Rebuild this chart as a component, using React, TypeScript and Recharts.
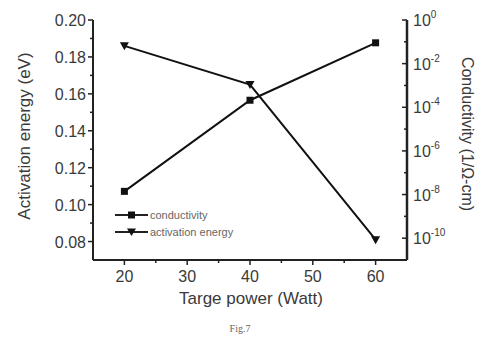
import React from "react";
import { ComposedChart, Line, XAxis, YAxis } from "recharts";

const powers = [20, 40, 60];
const activationEnergy = [0.186, 0.165, 0.081];
const conductivity = [1.4e-8, 2.1e-4, 0.09];

const xTicks = [20, 25, 30, 35, 40, 45, 50, 55, 60];
const leftTicks = [0.08, 0.09, 0.1, 0.11, 0.12, 0.13, 0.14, 0.15, 0.16, 0.17, 0.18, 0.19, 0.2];
const rightExponents = [-10, -9, -8, -7, -6, -5, -4, -3, -2, -1, 0];
const legendItems = ["conductivity", "activation energy"];

const W = 479;
const H = 341;
const PLOT_LEFT = 93;
const PLOT_RIGHT = 407;
const PLOT_TOP = 20;
const PLOT_BOTTOM = 260;
const INK = "#222";
const TEXT = "#3a3a3a";
const FONT = "'Liberation Sans', Arial, sans-serif";

const data = powers.map((p, i) => ({
  power: p,
  ae: activationEnergy[i],
  cond: conductivity[i],
}));

const BottomTick = ({ x, payload }: any) => {
  const major = payload.value % 10 === 0;
  return (
    <g>
      <line x1={x} x2={x} y1={PLOT_BOTTOM} y2={PLOT_BOTTOM + (major ? 5 : 3)} stroke={INK} strokeWidth={1.5} />
      {major && (
        <text x={x} y={PLOT_BOTTOM + 22} textAnchor="middle" fontSize={16} fill={TEXT} fontFamily={FONT}>
          {payload.value}
        </text>
      )}
    </g>
  );
};

const TopTick = ({ x }: any) => (
  <line x1={x} x2={x} y1={PLOT_TOP} y2={PLOT_TOP + 4} stroke={INK} strokeWidth={1.5} />
);

const LeftTick = ({ y, payload }: any) => {
  const major = Math.round(payload.value * 100) % 2 === 0;
  return (
    <g>
      <line x1={PLOT_LEFT - (major ? 5 : 3)} x2={PLOT_LEFT} y1={y} y2={y} stroke={INK} strokeWidth={1.5} />
      {major && (
        <text x={PLOT_LEFT - 7} y={y + 6} textAnchor="end" fontSize={16} fill={TEXT} fontFamily={FONT}>
          {payload.value.toFixed(2)}
        </text>
      )}
    </g>
  );
};

const RightTick = ({ y, payload }: any) => {
  const exp = Math.round(Math.log10(payload.value));
  const major = exp % 2 === 0;
  return (
    <g>
      <line x1={PLOT_RIGHT - (major ? 5 : 3)} x2={PLOT_RIGHT} y1={y} y2={y} stroke={INK} strokeWidth={1.5} />
      {major && (
        <text x={PLOT_RIGHT + 6} y={y + 6} fontSize={16} fill={TEXT} fontFamily={FONT}>
          10
          <tspan dy={-8} fontSize={10}>
            {exp}
          </tspan>
        </text>
      )}
    </g>
  );
};

const SquareDot = ({ cx, cy }: any) => (
  <rect x={cx - 3.5} y={cy - 3.5} width={7} height={7} fill="#111" />
);

const TriangleDot = ({ cx, cy }: any) => (
  <path d={`M${cx - 4.5},${cy - 3.5} L${cx + 4.5},${cy - 3.5} L${cx},${cy + 4.5} Z`} fill="#111" />
);

export default function App() {
  return (
    <div style={{ position: "absolute", left: 0, top: 0, width: W, height: H, background: "#fff" }}>
      <ComposedChart
        width={W}
        height={H}
        data={data}
        margin={{ top: PLOT_TOP, right: W - PLOT_RIGHT - 50, bottom: H - PLOT_BOTTOM - 30, left: PLOT_LEFT - 60 }}
      >
        <XAxis
          dataKey="power"
          type="number"
          domain={[15, 65]}
          ticks={xTicks}
          height={30}
          tick={<BottomTick />}
          tickLine={false}
          axisLine={{ stroke: INK, strokeWidth: 2 }}
          interval={0}
        />
        <XAxis
          xAxisId="top"
          dataKey="power"
          type="number"
          orientation="top"
          domain={[15, 65]}
          ticks={xTicks}
          height={0}
          tick={<TopTick />}
          tickLine={false}
          axisLine={{ stroke: INK, strokeWidth: 2 }}
          interval={0}
        />
        <YAxis
          yAxisId="left"
          type="number"
          domain={[0.07, 0.2]}
          ticks={leftTicks}
          width={60}
          tick={<LeftTick />}
          tickLine={false}
          axisLine={{ stroke: INK, strokeWidth: 2 }}
          interval={0}
          allowDataOverflow
        />
        <YAxis
          yAxisId="right"
          orientation="right"
          scale="log"
          type="number"
          domain={[1e-11, 1]}
          ticks={rightExponents.map((e) => Math.pow(10, e))}
          width={50}
          tick={<RightTick />}
          tickLine={false}
          axisLine={{ stroke: INK, strokeWidth: 2.5 }}
          interval={0}
          allowDataOverflow
        />
        <Line
          yAxisId="right"
          dataKey="cond"
          name="conductivity"
          stroke="#111"
          strokeWidth={2}
          dot={<SquareDot />}
          isAnimationActive={false}
        />
        <Line
          yAxisId="left"
          dataKey="ae"
          name="activation energy"
          stroke="#111"
          strokeWidth={2}
          dot={<TriangleDot />}
          isAnimationActive={false}
        />
      </ComposedChart>
      <svg width={W} height={H} style={{ position: "absolute", left: 0, top: 0, pointerEvents: "none" }}>
        <g transform="translate(113, 208)">
          <line x1={2} x2={35} y1={7} y2={7} stroke={INK} strokeWidth={2} />
          <rect x={15} y={3.5} width={7} height={7} fill="#111" />
          <text x={37} y={11} fontSize={11} fill="#666" fontFamily={FONT}>{legendItems[0]}</text>
          <line x1={2} x2={35} y1={24} y2={24} stroke={INK} strokeWidth={2} />
          <path d="M14,20.5 L23,20.5 L18.5,28 Z" fill="#111" />
          <text x={37} y={28} fontSize={11} fill="#666" fontFamily={FONT}>{legendItems[1]}</text>
        </g>
        <text
          transform={`translate(30, 136) rotate(-90)`}
          textAnchor="middle"
          fontSize={17}
          fill={TEXT}
          fontFamily={FONT}
        >
          Activation energy (eV)
        </text>
        <text
          transform={`translate(462, 134) rotate(90)`}
          textAnchor="middle"
          fontSize={16}
          fill={TEXT}
          fontFamily={FONT}
        >
          Conductivity (1/Ω-cm)
        </text>
        <text x={251} y={304} textAnchor="middle" fontSize={17} fill={TEXT} fontFamily={FONT}>
          Targe power (Watt)
        </text>
        <text x={240} y={332} textAnchor="middle" fontSize={10} fill="#666" fontFamily="'Liberation Serif', serif">
          Fig.7
        </text>
      </svg>
    </div>
  );
}
